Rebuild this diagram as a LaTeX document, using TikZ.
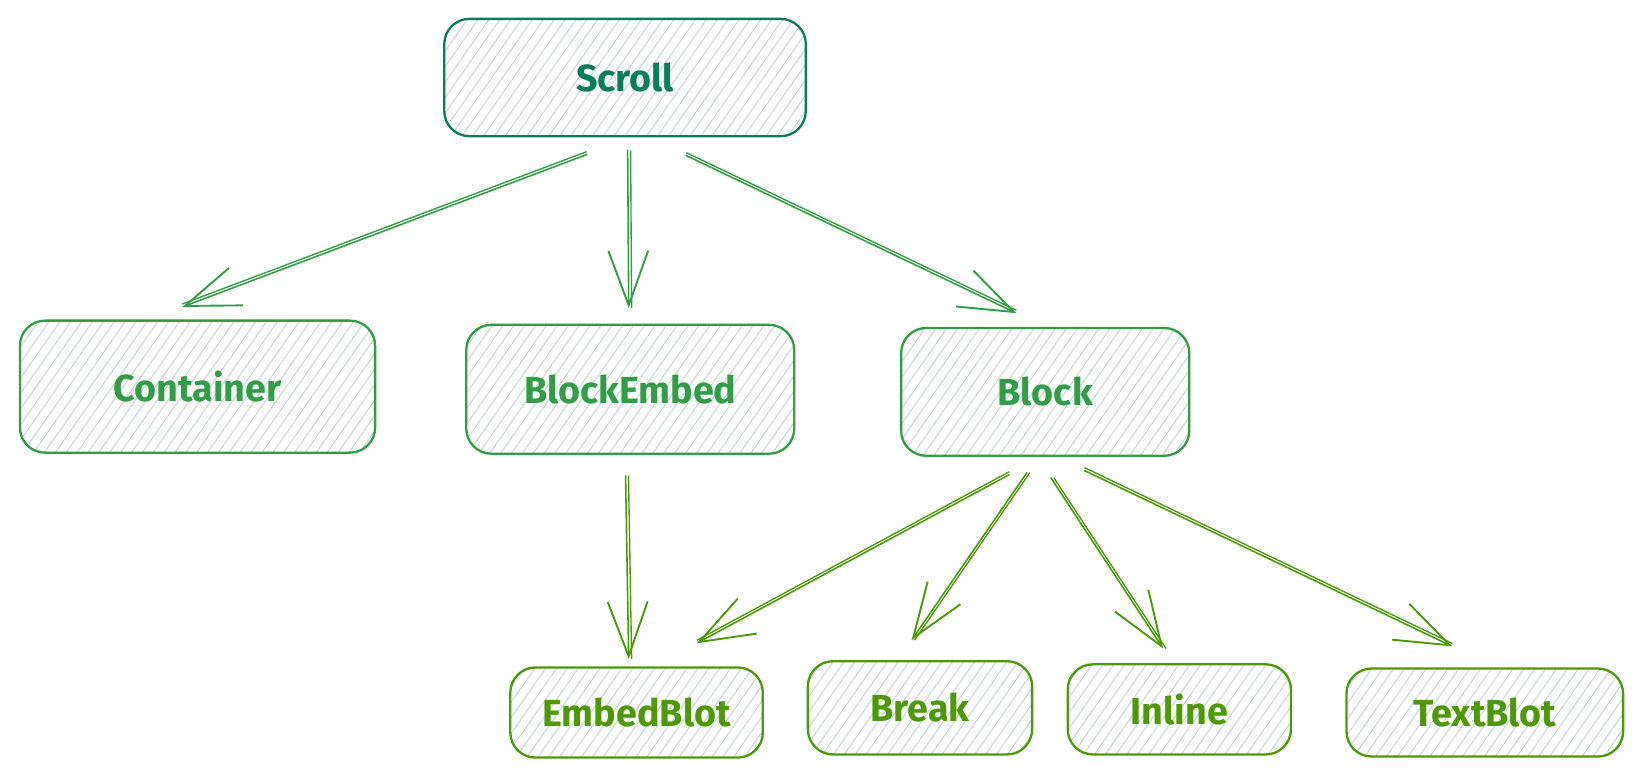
\documentclass[tikz,border=0pt]{standalone}
\usepackage{fontspec}
\setmainfont{Fira Sans}
\usetikzlibrary{patterns.meta,arrows.meta}
\definecolor{teal9}{HTML}{087F5B}
\definecolor{green8}{HTML}{2F9E44}
\definecolor{lime9}{HTML}{4C9A06}
\definecolor{hatch}{HTML}{CDD3DB}
\tikzset{
  box/.style={draw=#1, text=#1, line width=2.2pt, rounded corners=24pt,
    pattern={Lines[angle=55,distance=8.5pt,line width=1pt]}, pattern color=hatch,
    font=\fontsize{36}{42}\selectfont\bfseries, inner sep=0pt},
  arr/.style={draw=#1, line width=1.5pt, line cap=round, line join=round,
    -{Straight Barb[length=52pt,width=38pt,line width=1.8pt]}},
  ah/.style={preaction={draw=#1, line width=1.3pt, transform canvas={shift={(0pt,2.8pt)}}, -}},
  av/.style={preaction={draw=#1, line width=1.3pt, transform canvas={shift={(2.8pt,0pt)}}, -}},
}
\begin{document}
\begin{tikzpicture}[x=1pt,y=-1pt]
\useasboundingbox (0,0) rectangle (1568,744.4);
\fill[white] (0,0) rectangle (1568,744.4);
\node[box=teal9, minimum width=345pt, minimum height=112pt] (scroll) at (596.5,74) {Scroll};
\node[box=green8, minimum width=339pt, minimum height=126pt] (container) at (188.5,369) {Container};
\node[box=green8, minimum width=313pt, minimum height=123pt] (blockembed) at (601.5,371.5) {BlockEmbed};
\node[box=green8, minimum width=275pt, minimum height=122pt] (block) at (997.5,374) {Block};
\node[box=lime9, minimum width=241pt, minimum height=86pt] (embedblot) at (607.5,680) {EmbedBlot};
\node[box=lime9, minimum width=214pt, minimum height=89pt] (break) at (878,675.5) {Break};
\node[box=lime9, minimum width=213pt, minimum height=86pt] (inline) at (1125.5,677) {Inline};
\node[box=lime9, minimum width=264pt, minimum height=84pt] (textblot) at (1417,680) {TextBlot};

\draw[arr=green8, ah=green8] ([shift={(-36.5,17)}]scroll.south) -- ([shift={(-14.5,-12)}]container.north);
\draw[arr=green8, av=green8] ([shift={(2.5,13)}]scroll.south) -- ([shift={(-1.5,-15)}]blockembed.north);
\draw[arr=green8, ah=green8] ([shift={(58.5,18)}]scroll.south) -- ([shift={(-27.5,-13)}]block.north);
\draw[arr=lime9, av=lime9] ([shift={(-4.5,20)}]blockembed.south) -- ([shift={(-7.5,-7)}]embedblot.north);
\draw[arr=lime9, ah=lime9] ([shift={(-34.5,17)}]block.south) -- ([shift={(57.5,-22)}]embedblot.north);
\draw[arr=lime9, av=lime9] ([shift={(-17.5,15)}]block.south) -- ([shift={(-8,-19)}]break.north);
\draw[arr=lime9, av=lime9] ([shift={(5.5,20)}]block.south) -- ([shift={(-15.5,-14)}]inline.north);
\draw[arr=lime9, ah=lime9] ([shift={(37.5,13)}]block.south) -- ([shift={(-31,-20)}]textblot.north);
\end{tikzpicture}
\end{document}
